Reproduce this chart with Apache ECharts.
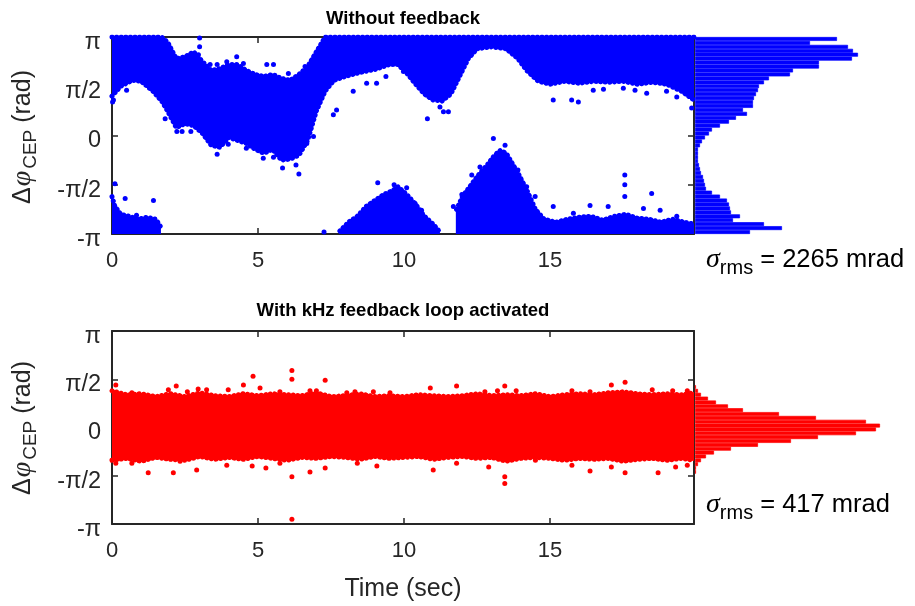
<!DOCTYPE html>
<html><head><meta charset="utf-8">
<script src="https://cdn.jsdelivr.net/npm/echarts@6/dist/echarts.min.js"></script>
<style>html,body{margin:0;padding:0;background:#fff}#c{width:915px;height:606px}</style>
</head><body><div id="c"></div>
<script>
// ---------- tick labels ----------
const xTickValues = [0, 5, 10, 15];
const yTickValues = [-1, -0.5, 0, 0.5, 1];            // phase in units of π
const yTickLabels = ['-π', '-π/2', '0', 'π/2', 'π'];

// ---------- top panel (without feedback): dense point clouds, phase in units of π ----------
// upper cloud (lower / upper edge of the dense region)
const topUpperT  = [0,0.3,0.7,1.0,1.4,1.7,1.9,2.2,2.5,2.8,3.1,3.4,3.7,4.0,4.3,4.6,4.9,5.2,5.5,5.8,6.1,6.4,6.7,7.0,7.3,7.6,8.0,8.5,9.0,9.5,9.8,10.1,10.4,10.7,11.0,11.3,11.6,11.9,12.2,12.5,13.0,13.5,13.9,14.2,14.6,15.0,15.5,16.0,16.5,17.0,17.5,18.0,18.5,19.0,19.5,19.93];
const topUpperLo = [0.40,0.50,0.56,0.55,0.45,0.35,0.25,0.08,0.12,0.10,0.02,-0.10,-0.12,-0.02,-0.05,-0.08,-0.14,-0.18,-0.14,-0.25,-0.24,-0.20,-0.05,0.25,0.45,0.56,0.60,0.64,0.67,0.72,0.72,0.63,0.52,0.42,0.36,0.35,0.42,0.60,0.78,0.88,0.90,0.88,0.78,0.66,0.55,0.52,0.55,0.53,0.55,0.54,0.55,0.52,0.54,0.52,0.45,0.36];
const topUpperHi = [1,1,1,1,1,1,0.95,0.78,0.80,0.85,0.75,0.66,0.68,0.72,0.72,0.66,0.62,0.60,0.62,0.58,0.56,0.62,0.70,0.85,1,1,1,1,1,1,1,1,1,1,1,1,1,1,1,1,1,1,1,1,1,1,1,1,1,1,1,1,1,1,1,1];
// lower clouds near -π
const topLow1T  = [0,0.1,0.3,0.6,0.9,1.2,1.5,1.65];
const topLow1Lo = [-1,-1,-1,-1,-1,-1,-1,-1];
const topLow1Hi = [-0.62,-0.72,-0.80,-0.82,-0.85,-0.83,-0.85,-0.92];
const topLow2T  = [7.8,8.1,8.4,8.7,9.0,9.3,9.6,9.8,10.1,10.4,10.7,11.0,11.2];
const topLow2Lo = [-1,-1,-1,-1,-1,-1,-1,-1,-1,-1,-1,-1,-1];
const topLow2Hi = [-0.97,-0.88,-0.82,-0.72,-0.66,-0.60,-0.56,-0.52,-0.60,-0.70,-0.82,-0.90,-0.97];
const topLow3T  = [11.8,12.0,12.3,12.6,12.9,13.1,13.3,13.5,13.7,13.9,14.2,14.5,14.8,15.2,15.6,16.0,16.4,16.8,17.2,17.6,18.0,18.4,18.8,19.2,19.6,19.93];
const topLow3Lo = [-1,-1,-1,-1,-1,-1,-1,-1,-1,-1,-1,-1,-1,-1,-1,-1,-1,-1,-1,-1,-1,-1,-1,-1,-1,-1];
const topLow3Hi = [-0.75,-0.62,-0.50,-0.38,-0.28,-0.20,-0.15,-0.18,-0.28,-0.38,-0.55,-0.75,-0.85,-0.88,-0.85,-0.83,-0.82,-0.86,-0.82,-0.80,-0.84,-0.85,-0.88,-0.85,-0.88,-0.90];
// isolated points [time s, phase/π]
const topPoints = [[0.1,-0.49],[0.45,-0.64],[1.42,-0.66],[0.84,-0.81],[0.05,0.36],[0.02,0.34],[0.5,0.46],[1.82,0.17],
  [2.22,0.04],[2.4,0.04],[2.7,0.04],[3.0,0.09],[3.6,-0.19],[3.98,-0.09],[4.6,-0.13],[5.18,-0.23],[5.53,-0.22],[5.84,-0.33],[6.4,-0.39],[6.3,-0.3],[6.67,-0.08],[6.9,-0.01],
  [7.58,0.21],[7.69,0.26],[8.26,0.45],[8.72,0.53],[9.06,0.53],[9.38,0.60],[7.26,-0.98],
  [3.0,0.99],[3.0,0.90],[2.96,0.82],[3.36,0.72],[3.6,0.72],[3.93,0.75],[4.27,0.80],[4.5,0.73],[5.3,0.72],[5.53,0.72],[6.04,0.63],[6.61,0.70],
  [10.8,0.17],[11.35,0.24],[11.52,0.24],[11.23,0.29],[9.98,0.65],[10.38,0.56],
  [15.11,0.36],[15.74,0.36],[15.97,0.34],[16.48,0.46],[16.83,0.47],[17.51,0.48],[17.91,0.46],[18.31,0.43],[18.99,0.45],[19.34,0.39],[19.85,0.28],
  [13.06,-0.03],[13.46,-0.10],[13.29,-0.17],[12.6,-0.32],[12.32,-0.40],[11.98,-0.60],[11.69,-0.72],[13.9,-0.35],[14.2,-0.52],[14.49,-0.62],
  [15.11,-0.72],[15.8,-0.79],[16.37,-0.71],[16.99,-0.72],[17.56,-0.40],[17.56,-0.50],[17.56,-0.62],[18.48,-0.59],[18.2,-0.74],[18.77,-0.76],[19.34,-0.82],
  [9.66,-0.50],[10.09,-0.53],[10.38,-0.69],[10.6,-0.76],[9.1,-0.48]];

// ---------- bottom panel (with feedback) ----------
const botT  = [0,0.5,1,1.5,2,2.5,3,3.5,4,4.5,5,5.5,6,6.5,7,7.5,8,8.5,9,9.5,10,10.5,11,11.5,12,12.5,13,13.5,14,14.5,15,15.5,16,16.5,17,17.5,18,18.5,19,19.5,19.93];
const botHi = [0.38,0.34,0.35,0.32,0.35,0.32,0.36,0.33,0.32,0.35,0.33,0.35,0.34,0.33,0.36,0.32,0.33,0.35,0.32,0.33,0.32,0.34,0.33,0.32,0.33,0.35,0.33,0.34,0.33,0.35,0.32,0.34,0.35,0.34,0.36,0.37,0.35,0.34,0.35,0.34,0.36];
const botLo = [-0.34,-0.32,-0.35,-0.31,-0.33,-0.34,-0.30,-0.33,-0.31,-0.33,-0.30,-0.32,-0.34,-0.31,-0.32,-0.30,-0.31,-0.33,-0.30,-0.32,-0.31,-0.30,-0.33,-0.31,-0.30,-0.32,-0.31,-0.35,-0.32,-0.31,-0.32,-0.34,-0.32,-0.33,-0.32,-0.35,-0.33,-0.32,-0.34,-0.32,-0.34];
const botPoints = [[0.13,0.44],[0.68,0.36],[1.93,0.39],[2.2,0.43],[2.58,0.37],[2.95,0.40],[3.24,0.39],[3.98,0.39],[4.5,0.44],[5.07,0.41],[5.75,0.37],[6.78,0.38],[7.0,0.38],[8.04,0.36],[8.32,0.37],[8.95,0.37],[9.52,0.36],
  [0.13,-0.37],[0.68,-0.37],[1.24,-0.47],[2.1,-0.47],[2.33,-0.35],[2.9,-0.44],[3.93,-0.39],[4.8,-0.40],[5.27,-0.42],[5.75,-0.37],[6.78,-0.46],[7.3,-0.42],[8.4,-0.37],[9.07,-0.40],
  [10.9,0.41],[11.8,0.43],[12.77,0.37],[13.2,0.38],[13.84,0.38],[15.75,0.38],[16.37,0.37],[17.1,0.44],[17.57,0.47],[18.5,0.39],[19.2,0.38],[19.7,0.38],
  [11.0,-0.44],[11.8,-0.37],[12.9,-0.41],[13.45,-0.51],[13.45,-0.58],[14.5,-0.34],[15.75,-0.39],[16.37,-0.45],[17.1,-0.41],[17.57,-0.47],[18.7,-0.47],[19.3,-0.41],[19.7,-0.39],
  [4.83,0.53],[6.16,0.59],[6.16,0.5],[6.16,-0.51],[6.16,-0.95],[7.3,0.49],[13.45,0.43]];

// ---------- histograms: 50 bins from -π (first) to π (last), counts in arbitrary units ----------
const histBins = Array.from({length: 50}, (_, i) => i);
const topHist = [55,87,69,38,45,36,35,34,32,25,17,11,10,9,8,6,5,4,3,3,3,3,5,7,10,14,17,25,34,41,52,48,58,58,59,61,63,64,69,74,95,98,124,124,157,163,158,153,115,142];
const botHist = [0,0,0,0,0,0,0,0,0,0,0,0,0,1,1,3,6,11,19,36,63,96,123,161,181,185,171,121,84,48,33,21,13,6,3,1,0,0,0,0,0,0,0,0,0,0,0,0,0,0];

const topRms = '2265 mrad';
const botRms = '417 mrad';

// ---------- chart ----------
const AX = '#262626';
const FONT = 'Liberation Sans, Arial, sans-serif';
function bandItems(t, lo, hi) {
  const d = [];
  for (let i = 0; i < t.length - 1; i++) d.push([t[i], lo[i], hi[i], t[i+1], lo[i+1], hi[i+1]]);
  return d;
}
function bandSeries(idx, t, lo, hi, color) {
  return {
    type: 'custom', xAxisIndex: idx, yAxisIndex: idx, clip: true, silent: true, z: 3,
    data: bandItems(t, lo, hi),
    renderItem(params, api) {
      const p0 = api.coord([api.value(0), api.value(1)]);
      const p1 = api.coord([api.value(3), api.value(4)]);
      const p2 = api.coord([api.value(3), api.value(5)]);
      const p3 = api.coord([api.value(0), api.value(2)]);
      return { type: 'polygon', shape: { points: [p0, p1, p2, p3] },
        style: { fill: color, stroke: color, lineWidth: 1.5, lineJoin: 'round' } };
    }
  };
}
// dotted fringe along a cloud edge (marker texture of the dense scatter)
function edgeSeries(idx, t, v, color) {
  return { type: 'line', xAxisIndex: idx, yAxisIndex: idx, silent: true, z: 3, clip: true,
    data: t.map((x, i) => [x, v[i]]), showSymbol: false, symbol: 'none',
    lineStyle: { color, width: 5, type: [0.1, 4.5], cap: 'round', opacity: 1 } };
}
const xMax = 19.93;
function scatterAxes(gi) {
  const base = { gridIndex: gi, type: 'value', min: 0, max: xMax, interval: 5 };
  return [
    Object.assign({}, base, { position: 'bottom',
      axisLine: { show: true, onZero: false, lineStyle: { color: AX, width: 2 } },
      axisTick: { show: true, inside: true, length: 6, lineStyle: { color: AX, width: 1.5 } },
      axisLabel: { color: AX, fontSize: 22, fontFamily: FONT, margin: 16, showMaxLabel: false,
        formatter: v => xTickValues.includes(v) ? String(v) : '' },
      splitLine: { show: false } }),
    Object.assign({}, base, { position: 'top',
      axisLine: { show: true, onZero: false, lineStyle: { color: AX, width: 2 } },
      axisTick: { show: true, inside: true, length: 6, lineStyle: { color: AX, width: 1.5 } },
      axisLabel: { show: false }, splitLine: { show: false } })
  ];
}
function scatterYAxes(gi) {
  const base = { gridIndex: gi, type: 'value', min: -1, max: 1, interval: 0.5 };
  return [
    Object.assign({}, base, { position: 'left',
      axisLine: { show: true, onZero: false, lineStyle: { color: AX, width: 2 } },
      axisTick: { show: true, inside: true, length: 6, lineStyle: { color: AX, width: 1.5 } },
      axisLabel: { color: AX, fontSize: 23.5, fontFamily: FONT, margin: 11, verticalAlign: 'top', lineHeight: 11,
        formatter: v => { const k = yTickValues.findIndex(x => Math.abs(x - v) < 1e-9); return k >= 0 ? yTickLabels[k] : ''; } },
      splitLine: { show: false } }),
    Object.assign({}, base, { position: 'right',
      axisLine: { show: true, onZero: false, lineStyle: { color: AX, width: 2 } },
      axisTick: { show: true, inside: true, length: 6, lineStyle: { color: AX, width: 1.5 } },
      axisLabel: { show: false }, splitLine: { show: false } })
  ];
}
const topX = scatterAxes(0), botX = scatterAxes(2);
const topY = scatterYAxes(0), botY = scatterYAxes(2);
const histX = gi => ({ gridIndex: gi, type: 'value', min: 0, max: 200, show: false });
const histY = gi => ({ gridIndex: gi, type: 'category', data: histBins, show: false });

const BLUE = '#0000ff', RED = '#ff0000';
const dot = c => ({ color: c, opacity: 1 });
const barStyle = c => ({ color: c, borderColor: c, borderWidth: 0.7, opacity: 1 });
const nonEmpty = arr => arr.map(v => (v > 0 ? v : '-'));   // empty bins draw nothing
const chart = echarts.init(document.getElementById('c'), null, { renderer: 'canvas' });
chart.setOption({
  animation: false,
  backgroundColor: '#fff',
  grid: [
    { left: 112, top: 37, width: 582, height: 197, outerBoundsMode: 'none' },
    { left: 695, top: 37, width: 200, height: 197, outerBoundsMode: 'none' },
    { left: 112, top: 331, width: 582, height: 193, outerBoundsMode: 'none' },
    { left: 695, top: 331, width: 200, height: 193, outerBoundsMode: 'none' }
  ],
  xAxis: [topX[0], topX[1], histX(1), botX[0], botX[1], histX(3)],
  yAxis: [topY[0], topY[1], histY(1), botY[0], botY[1], histY(3)],
  series: [
    bandSeries(0, topUpperT, topUpperLo, topUpperHi, BLUE),
    edgeSeries(0, topUpperT, topUpperLo, BLUE),
    edgeSeries(0, topUpperT, topUpperHi, BLUE),
    bandSeries(0, topLow1T, topLow1Lo, topLow1Hi, BLUE),
    edgeSeries(0, topLow1T, topLow1Hi, BLUE),
    bandSeries(0, topLow2T, topLow2Lo, topLow2Hi, BLUE),
    edgeSeries(0, topLow2T, topLow2Hi, BLUE),
    bandSeries(0, topLow3T, topLow3Lo, topLow3Hi, BLUE),
    edgeSeries(0, topLow3T, topLow3Hi, BLUE),
    { type: 'scatter', xAxisIndex: 0, yAxisIndex: 0, data: topPoints, symbolSize: 5, itemStyle: dot(BLUE), silent: true, z: 3 },
    { type: 'bar', xAxisIndex: 2, yAxisIndex: 2, data: nonEmpty(topHist), barCategoryGap: '0%', itemStyle: barStyle(BLUE), silent: true },
    bandSeries(3, botT, botLo, botHi, RED),
    edgeSeries(3, botT, botLo, RED),
    edgeSeries(3, botT, botHi, RED),
    { type: 'scatter', xAxisIndex: 3, yAxisIndex: 3, data: botPoints, symbolSize: 5, itemStyle: dot(RED), silent: true, z: 3 },
    { type: 'bar', xAxisIndex: 5, yAxisIndex: 5, data: nonEmpty(botHist), barCategoryGap: '0%', itemStyle: barStyle(RED), silent: true }
  ],
  graphic: [
    { type: 'text', style: { text: 'Without feedback', x: 403, y: 19, align: 'center', verticalAlign: 'middle', fontSize: 18.5, fontWeight: 'bold', fontFamily: FONT, fill: '#000' } },
    { type: 'text', style: { text: 'With kHz feedback loop activated', x: 403, y: 311, align: 'center', verticalAlign: 'middle', fontSize: 18.5, fontWeight: 'bold', fontFamily: FONT, fill: '#000' } },
    { type: 'text', style: { text: 'Time (sec)', x: 403, y: 589, align: 'center', verticalAlign: 'middle', fontSize: 25, fontFamily: FONT, fill: AX } },
    ...[137, 428].map(cy => ({ type: 'text', x: 23, y: cy, rotation: Math.PI / 2,
      style: { text: '{n|Δ}{p|φ}{s|CEP}{n| (rad)}', align: 'center', verticalAlign: 'middle', fill: AX,
        rich: {
          n: { fontSize: 25, fontFamily: FONT, lineHeight: 34, verticalAlign: 'middle', fill: AX },
          p: { fontSize: 28, fontFamily: 'Liberation Serif, serif', fontStyle: 'italic', lineHeight: 34, verticalAlign: 'middle', fill: AX, padding: [0, 2, 0, 1] },
          s: { fontSize: 19, fontFamily: FONT, lineHeight: 34, verticalAlign: 'bottom', fill: AX }
        } } })),
    ...[[260, topRms], [505, botRms]].map(([cy, txt]) => ({ type: 'text',
      style: { text: '{g|σ}{s|rms}{n| = ' + txt + '}', x: 706, y: cy, align: 'left', verticalAlign: 'middle', fill: '#000',
        rich: {
          g: { fontSize: 28, fontFamily: 'Liberation Serif, serif', fontStyle: 'italic', lineHeight: 36, verticalAlign: 'middle', fill: '#000' },
          s: { fontSize: 20, fontFamily: FONT, lineHeight: 36, verticalAlign: 'bottom', fill: '#000' },
          n: { fontSize: 25.5, fontFamily: FONT, lineHeight: 36, verticalAlign: 'middle', fill: '#000' }
        } } }))
  ]
});
</script></body></html>
